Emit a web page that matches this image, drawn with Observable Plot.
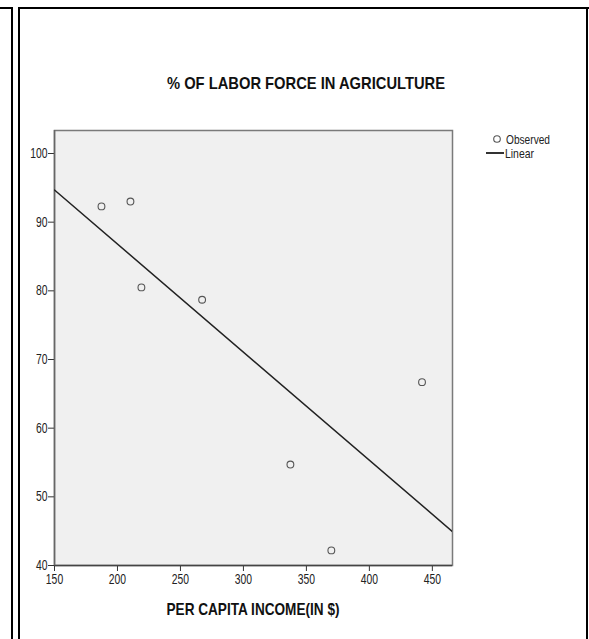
<!DOCTYPE html>
<html>
<head>
<meta charset="utf-8">
<script src="https://cdn.jsdelivr.net/npm/d3@7"></script>
<script src="https://cdn.jsdelivr.net/npm/@observablehq/plot@0.6"></script>
<style>
  body { margin: 0; background: #fff; }
  #page { position: relative; width: 589px; height: 639px; overflow: hidden; font-family: "Liberation Sans", Arial, sans-serif; }
  .b { position: absolute; background: #000; }
  #chart, #overlay { position: absolute; left: 0; top: 0; }
</style>
</head>
<body>
<div id="page">
  <div class="b" style="left:0;top:7px;width:13px;height:2px"></div>
  <div class="b" style="left:11px;top:7px;width:2px;height:640px"></div>
  <div class="b" style="left:18px;top:7px;width:571px;height:2px"></div>
  <div class="b" style="left:18px;top:7px;width:2px;height:640px"></div>
  <div class="b" style="left:586px;top:7px;width:2px;height:640px"></div>
  <div id="chart"></div>
  <svg id="overlay" width="589" height="639" font-family="Liberation Sans, Arial, sans-serif">
    <text id="title" x="306" y="89" text-anchor="middle" font-size="17" font-weight="bold" fill="#111" textLength="278" lengthAdjust="spacingAndGlyphs">% OF LABOR FORCE IN AGRICULTURE</text>
    <text id="xlabel" x="253" y="615" text-anchor="middle" font-size="17" font-weight="bold" fill="#111" textLength="173" lengthAdjust="spacingAndGlyphs">PER CAPITA INCOME(IN $)</text>
    <circle cx="497" cy="139" r="3.3" fill="none" stroke="#555" stroke-width="1.1"></circle>
    <text x="506" y="143.5" font-size="13" fill="#222" textLength="44" lengthAdjust="spacingAndGlyphs">Observed</text>
    <line x1="486" x2="504" y1="153" y2="153" stroke="#333" stroke-width="2"></line>
    <text x="505" y="157.5" font-size="13" fill="#222" textLength="29" lengthAdjust="spacingAndGlyphs">Linear</text>
  </svg>
</div>
<script>
// Data
const income = [187.3, 210.3, 219.0, 267.2, 337.3, 369.8, 441.8];
const laborAg = [92.3, 93.0, 80.5, 78.7, 54.7, 42.2, 66.7];
const xTicks = [150, 200, 250, 300, 350, 400, 450];
const yTicks = [40, 50, 60, 70, 80, 90, 100];
const xDomain = [150, 466];
const yDomain = [40, 103.35];

const data = income.map((x, i) => ({x, y: laborAg[i]}));

// Least-squares linear fit from the data
const mx = d3.mean(income), my = d3.mean(laborAg);
const slope = d3.sum(data, d => (d.x - mx) * (d.y - my)) / d3.sum(data, d => (d.x - mx) ** 2);
const intercept = my - slope * mx;
const fit = xDomain.map(x => ({x, y: intercept + slope * x}));

const chart = Plot.plot({
  width: 589,
  height: 639,
  marginLeft: 54,
  marginRight: 137,
  marginTop: 130,
  marginBottom: 74,
  style: {fontFamily: "Liberation Sans, Arial, sans-serif", fontSize: "13px", background: "transparent", color: "#222"},
  x: {domain: xDomain, label: null},
  y: {domain: yDomain, label: null},
  marks: [
    Plot.frame({fill: "#f0f0f0", stroke: "#7a7a7a", strokeWidth: 1.5}),
    Plot.axisX({ticks: xTicks, tickSize: 6, tickPadding: 3, label: null, stroke: "#333", fontSize: 14, fill: "#222"}),
    Plot.axisY({ticks: yTicks, tickSize: 6, tickPadding: 1, label: null, stroke: "#333", fontSize: 14, fill: "#222"}),
    Plot.ruleY([yDomain[0]], {stroke: "#444", strokeWidth: 1.5}),
    Plot.ruleX([xDomain[0]], {stroke: "#666", strokeWidth: 1.5}),
    Plot.line(fit, {x: "x", y: "y", stroke: "#222", strokeWidth: 1.5, clip: true}),
    Plot.dot(data, {x: "x", y: "y", r: 3.4, stroke: "#555", strokeWidth: 1.1, fill: "none"})
  ]
});
document.getElementById("chart").appendChild(chart);

// Condense tick labels to mimic the narrow font of the original
chart.querySelectorAll('g[aria-label$="tick label"] text').forEach(t => {
  t.style.fontSize = "14px";
  const w = t.getComputedTextLength();
  t.setAttribute("textLength", (w * 0.74).toFixed(2));
  t.setAttribute("lengthAdjust", "spacingAndGlyphs");
});
</script>
</body>
</html>
